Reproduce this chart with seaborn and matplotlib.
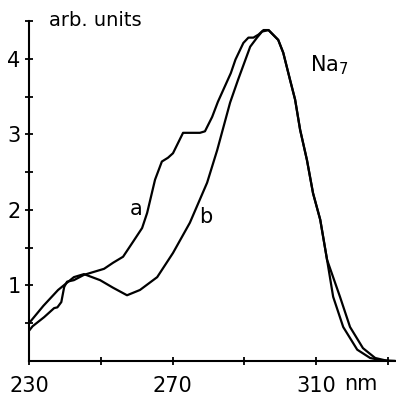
import matplotlib
matplotlib.use("Agg")
import matplotlib.pyplot as plt
import matplotlib.transforms as mtransforms
import seaborn as sns
import pandas as pd

# Curve a (wiggly)
a_nm = [230.0, 231.0, 234.2, 237.0, 237.9, 239.0, 239.8, 240.6, 242.5, 245.3,
        248.1, 250.9, 253.4, 256.2, 259.0, 261.5, 262.9, 265.1, 267.0, 268.7,
        270.1, 272.9, 274.8, 277.6, 279.0, 281.0, 282.6, 286.2, 287.5, 289.7,
        291.1, 292.5, 293.9, 295.3, 296.7, 299.4, 300.8, 302.7, 304.1, 305.5,
        307.4, 309.1, 311.1, 313.0, 314.7, 317.5, 321.4, 325.0, 328.0, 332.0]
a_val = [0.40, 0.46, 0.58, 0.70, 0.71, 0.78, 0.98, 1.05, 1.07, 1.14,
         1.18, 1.22, 1.30, 1.38, 1.58, 1.76, 1.96, 2.40, 2.64, 2.69,
         2.75, 3.02, 3.02, 3.02, 3.04, 3.23, 3.43, 3.81, 3.99, 4.21,
         4.28, 4.28, 4.32, 4.38, 4.38, 4.25, 4.08, 3.72, 3.46, 3.06,
         2.66, 2.22, 1.87, 1.34, 0.85, 0.45, 0.15, 0.04, 0.01, 0.0]

# Curve b (smooth)
b_nm = [230.0, 234.0, 238.1, 242.5, 245.3, 249.8, 253.4, 257.3, 260.9, 265.7,
        270.1, 274.8, 279.6, 282.4, 286.0, 288.2, 291.6, 293.5, 294.9, 296.7,
        299.4, 300.8, 302.7, 304.1, 305.5, 307.4, 309.1, 311.1, 313.0, 316.6,
        319.4, 323.0, 326.4, 330.0, 332.0]
b_val = [0.50, 0.73, 0.94, 1.11, 1.15, 1.07, 0.97, 0.87, 0.94, 1.11,
         1.43, 1.83, 2.36, 2.79, 3.42, 3.72, 4.16, 4.28, 4.36, 4.38,
         4.25, 4.08, 3.72, 3.46, 3.06, 2.66, 2.22, 1.87, 1.34, 0.85,
         0.45, 0.17, 0.04, 0.0, 0.0]

x_ticks = [230, 250, 270, 290, 310, 330]
x_labels = ["230", "", "270", "", "310", ""]
y_ticks = [0.5, 1.0, 1.5, 2.0, 2.5, 3.0, 3.5, 4.0, 4.5]
y_labels = ["", "1", "", "2", "", "3", "", "4", ""]

sns.set_style("ticks")
plt.rcParams["font.family"] = ["DejaVu Sans"]
plt.rcParams["mathtext.default"] = "regular"
plt.rcParams["text.color"] = "black"

df = pd.concat([
    pd.DataFrame({"nm": a_nm, "val": a_val, "curve": "a"}),
    pd.DataFrame({"nm": b_nm, "val": b_val, "curve": "b"}),
])

fig = plt.figure(figsize=(3.96, 4.0), dpi=100)
ax = fig.add_axes([29 / 396, 39 / 400, 1 - 29 / 396, (361 - 21) / 400])
sns.lineplot(data=df, x="nm", y="val", units="curve", estimator=None,
             color="black", linewidth=1.6, sort=False, ax=ax, legend=False)

ax.set_xlim(230, 332.2)
ax.set_ylim(0, 4.5)
ax.set_xticks(x_ticks)
ax.set_xticklabels(x_labels)
ax.set_yticks(y_ticks)
ax.set_yticklabels(y_labels)
ax.tick_params(direction="inout", length=6, width=1.3, labelsize=15,
               color="black", labelcolor="black")
ax.tick_params(axis="x", pad=8)
ax.tick_params(axis="y", pad=3)
for s in ["top", "right"]:
    ax.spines[s].set_visible(False)
for s in ["left", "bottom"]:
    ax.spines[s].set_linewidth(1.5)
    ax.spines[s].set_color("black")
ax.set_xlabel("")
ax.set_ylabel("")

ax.text(235.5, 4.5, "arb. units", fontsize=14, va="center", ha="left",
        clip_on=False, color="black")
ax.text(308.3, 3.91, "Na$_7$", fontsize=15, va="center", ha="left",
        color="black")
ax.text(259.8, 2.01, "a", fontsize=15, va="center", ha="center",
        color="black")
ax.text(279.3, 1.91, "b", fontsize=15, va="center", ha="center",
        color="black")
trans = mtransforms.blended_transform_factory(ax.transData, ax.transAxes)
ax.text(322.5, -0.068, "nm", fontsize=15, va="center", ha="center",
        transform=trans, clip_on=False, color="black")

fig.savefig("out.png", dpi=100)
